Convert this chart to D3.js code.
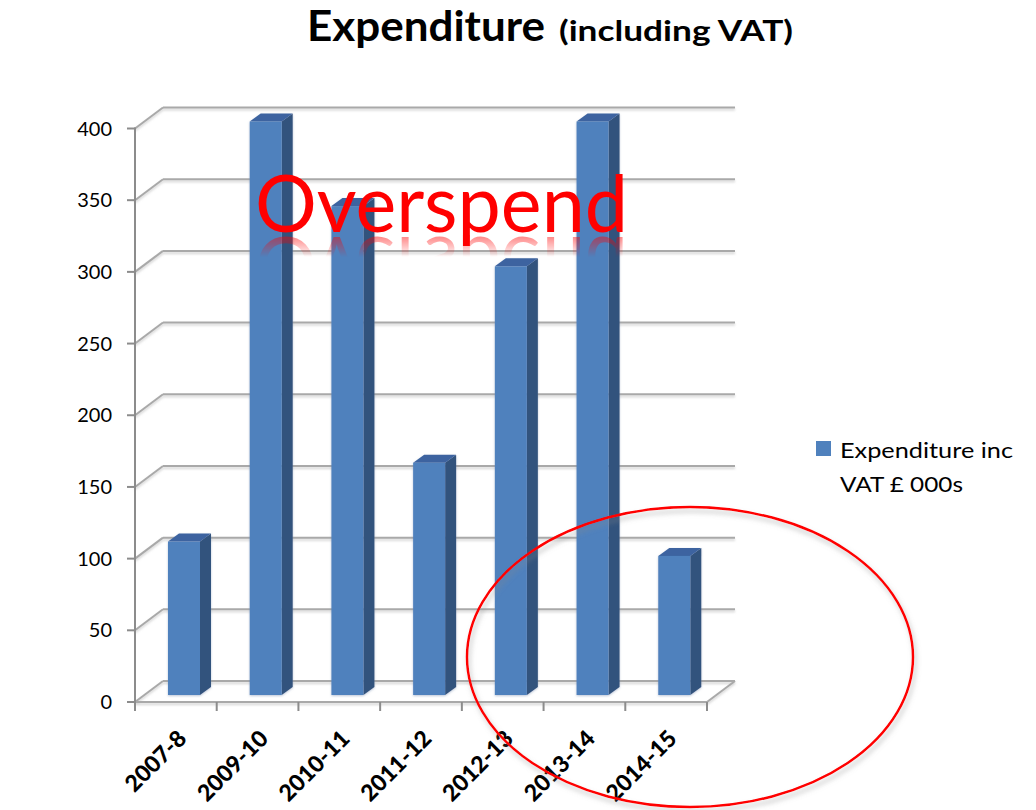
<!DOCTYPE html>
<html>
<head>
<meta charset="utf-8">
<script src="https://cdn.jsdelivr.net/npm/d3@7"></script>
<style>
  html, body { margin: 0; padding: 0; background: #ffffff; }
  svg { display: block; }
</style>
</head>
<body>
<script>
// ---- data ----
const categories = ["2007-8", "2009-10", "2010-11", "2011-12", "2012-13", "2013-14", "2014-15"];
const values = [107, 400, 341, 162, 299, 400, 97];
const yTicks = [0, 50, 100, 150, 200, 250, 300, 350, 400];
const seriesName = ["Expenditure inc", "VAT £ 000s"];
const titleMain = "Expenditure";
const titleSub = "(including VAT)";
const annotation = "Overspend";

const W = 1036, H = 810;
const FONT = "Lato, 'Open Sans', sans-serif";

const svg = d3.select("body").append("svg").attr("width", W).attr("height", H);
const defs = svg.append("defs");

// filters
const sh = defs.append("filter").attr("id", "lineShadow").attr("x", "-5%").attr("y", "-200%").attr("width", "110%").attr("height", "500%");
sh.append("feDropShadow").attr("dx", 0).attr("dy", 6).attr("stdDeviation", 1.5).attr("flood-color", "#9a9a9a").attr("flood-opacity", 0.6);
const gsh = defs.append("filter").attr("id", "gridShadow").attr("x", "-5%").attr("y", "-200%").attr("width", "110%").attr("height", "500%");
gsh.append("feDropShadow").attr("dx", 0).attr("dy", 2).attr("stdDeviation", 1).attr("flood-color", "#c8c8c8").attr("flood-opacity", 0.8);
const esh = defs.append("filter").attr("id", "ellShadow").attr("x", "-10%").attr("y", "-10%").attr("width", "120%").attr("height", "120%");
esh.append("feDropShadow").attr("dx", 2).attr("dy", 4).attr("stdDeviation", 2.5).attr("flood-color", "#888").attr("flood-opacity", 0.5);
const bsh = defs.append("filter").attr("id", "barShadow").attr("x", "-20%").attr("y", "-5%").attr("width", "140%").attr("height", "110%");
bsh.append("feDropShadow").attr("dx", 0).attr("dy", 1).attr("stdDeviation", 1.2).attr("flood-color", "#7a8fb0").attr("flood-opacity", 0.5);

// reflection mask gradient
const rg = defs.append("linearGradient").attr("id", "reflGrad").attr("x1", 0).attr("y1", 0).attr("x2", 0).attr("y2", 1);
rg.append("stop").attr("offset", "0%").attr("stop-color", "#fff").attr("stop-opacity", 0.5);
rg.append("stop").attr("offset", "100%").attr("stop-color", "#fff").attr("stop-opacity", 0);

// ---- scales ----
const x0 = 135, x1 = 707;
const x = d3.scaleBand().domain(categories).range([x0, x1]).paddingInner(0).paddingOuter(0);
const y = d3.scaleLinear().domain([0, 400]).range([702, 128.5]);
const depthX = 28, depthY = -21;

// ---- grid (back wall + side wall) ----
const grid = svg.append("g").attr("filter", "url(#gridShadow)");
yTicks.forEach(v => {
  const yy = y(v);
  grid.append("line")
    .attr("x1", x0).attr("y1", yy).attr("x2", x0 + depthX).attr("y2", yy + depthY)
    .attr("stroke", "#a9a9a9").attr("stroke-width", 2);
  grid.append("line")
    .attr("x1", x0 + depthX).attr("y1", yy + depthY).attr("x2", x1 + depthX).attr("y2", yy + depthY)
    .attr("stroke", "#a9a9a9").attr("stroke-width", 2);
});
grid.append("line").attr("x1", x0).attr("y1", y(0)).attr("x2", x1).attr("y2", y(0))
  .attr("stroke", "#a9a9a9").attr("stroke-width", 2);
grid.append("line").attr("x1", x1).attr("y1", y(0)).attr("x2", x1 + depthX).attr("y2", y(0) + depthY)
  .attr("stroke", "#a9a9a9").attr("stroke-width", 2);

// y axis line + ticks
const axisG = svg.append("g");
axisG.append("line").attr("x1", x0).attr("y1", y(0) + 1).attr("x2", x0).attr("y2", y(400) - 1)
  .attr("stroke", "#8c8c8c").attr("stroke-width", 2);
yTicks.forEach(v => {
  axisG.append("line").attr("x1", x0 - 8).attr("y1", y(v)).attr("x2", x0).attr("y2", y(v))
    .attr("stroke", "#8c8c8c").attr("stroke-width", 2);
  axisG.append("text").attr("x", 112).attr("y", y(v) + 7)
    .attr("text-anchor", "end").attr("font-family", FONT).attr("font-size", 20)
    .attr("fill", "#000").text(v);
});
// x axis ticks
const xBounds = categories.map(c => x(c)).concat([x1]);
xBounds.forEach(b => {
  axisG.append("line").attr("x1", b).attr("y1", y(0)).attr("x2", b).attr("y2", y(0) + 9)
    .attr("stroke", "#8c8c8c").attr("stroke-width", 2);
});
// x labels
categories.forEach(c => {
  const cx = x(c) + x.bandwidth() / 2;
  axisG.append("text")
    .attr("transform", `translate(${cx + 12},${740}) rotate(-45)`)
    .attr("text-anchor", "end").attr("font-family", FONT).attr("font-weight", 900)
    .attr("font-size", 23).attr("fill", "#000").text(c);
});

// ---- bars (3D) ----
const barOff = 33, barW = 32, bdx = 11, bdy = 8, baseLift = 7;
const bars = svg.append("g").attr("filter", "url(#barShadow)");
categories.forEach((c, i) => {
  const bx = x(c) + barOff;
  const base = y(0) - baseLift;
  const top = y(values[i]) - baseLift;
  bars.append("polygon")
    .attr("points", [[bx + barW, top], [bx + barW + bdx, top - bdy], [bx + barW + bdx, base - bdy], [bx + barW, base]].map(p => p.join(",")).join(" "))
    .attr("fill", "#32527d");
  bars.append("polygon")
    .attr("points", [[bx, top], [bx + bdx, top - bdy], [bx + barW + bdx, top - bdy], [bx + barW, top]].map(p => p.join(",")).join(" "))
    .attr("fill", "#3c64a0");
  bars.append("rect").attr("x", bx).attr("y", top).attr("width", barW).attr("height", base - top)
    .attr("fill", "#4f81bd");
});

// ---- title ----
svg.append("text").attr("x", 307).attr("y", 41).attr("font-family", FONT).attr("font-weight", "bold")
  .attr("font-size", 42).attr("textLength", 238).attr("lengthAdjust", "spacingAndGlyphs").attr("fill", "#000").text(titleMain);
svg.append("text").attr("x", 559).attr("y", 41).attr("font-family", FONT).attr("font-weight", "bold")
  .attr("font-size", 28).attr("textLength", 234).attr("lengthAdjust", "spacingAndGlyphs").attr("fill", "#000").text(titleSub);

// ---- legend ----
svg.append("rect").attr("x", 816).attr("y", 441).attr("width", 15).attr("height", 15).attr("fill", "#4f81bd");
svg.append("text").attr("x", 840).attr("y", 458).attr("font-family", FONT).attr("font-size", 22)
  .attr("textLength", 173).attr("lengthAdjust", "spacingAndGlyphs").attr("fill", "#000").text(seriesName[0]);
svg.append("text").attr("x", 840).attr("y", 492).attr("font-family", FONT).attr("font-size", 22)
  .attr("textLength", 123).attr("lengthAdjust", "spacingAndGlyphs").attr("fill", "#000").text(seriesName[1]);

// ---- annotation: Overspend + reflection ----
const base = 232;
svg.append("text").attr("id", "overspendText").attr("x", 255).attr("y", base).attr("font-family", FONT).attr("font-size", 80)
  .attr("textLength", 373).attr("lengthAdjust", "spacingAndGlyphs").attr("fill", "#ff0000").text(annotation);
const mask = defs.append("mask").attr("id", "reflMask");
mask.append("rect").attr("x", 240).attr("y", base + 3).attr("width", 420).attr("height", 22).attr("fill", "url(#reflGrad)");
svg.append("g").attr("mask", "url(#reflMask)")
  .append("use").attr("href", "#overspendText")
  .attr("transform", `translate(0,${2 * base + 5}) scale(1,-1)`);

// threshold line
svg.append("line").attr("x1", 22).attr("x2", 998).attr("y1", 324).attr("y2", 324)
  .attr("stroke", "#ff0000").attr("stroke-width", 5).attr("filter", "url(#lineShadow)");

// ellipse highlight
svg.append("ellipse").attr("cx", 690).attr("cy", 657).attr("rx", 223).attr("ry", 150)
  .attr("fill", "none").attr("stroke", "#ff0000").attr("stroke-width", 2.5).attr("filter", "url(#ellShadow)");
</script>
</body>
</html>
